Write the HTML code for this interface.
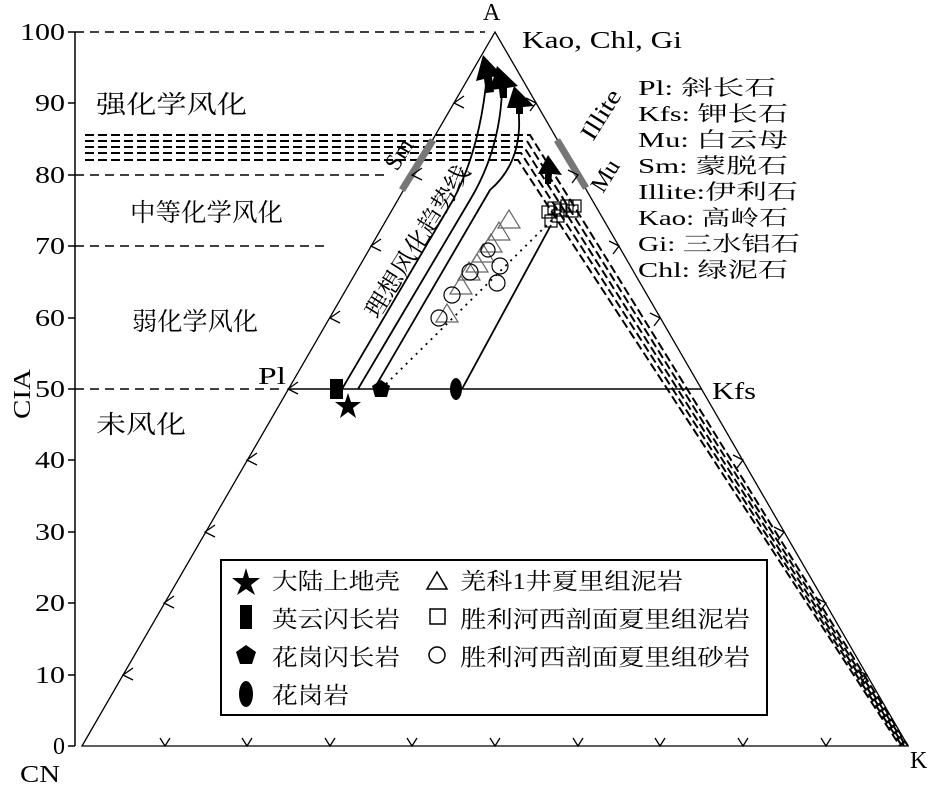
<!DOCTYPE html>
<html><head><meta charset="utf-8"><style>
body{margin:0;background:#fff}
text{font-family:"Liberation Serif","Noto Serif CJK SC","Noto Sans CJK SC",serif;fill:#000}
</style></head><body>
<svg width="938" height="788" viewBox="0 0 938 788" xmlns="http://www.w3.org/2000/svg">
<g stroke="#000" fill="none">
<line x1="75" y1="32" x2="75" y2="746" stroke-width="1.5"/>
<g stroke-width="1.5">
<line x1="68" y1="32" x2="75" y2="32"/><line x1="68" y1="103" x2="75" y2="103"/><line x1="68" y1="175" x2="75" y2="175"/><line x1="68" y1="246" x2="75" y2="246"/><line x1="68" y1="318" x2="75" y2="318"/><line x1="68" y1="389" x2="75" y2="389"/><line x1="68" y1="460" x2="75" y2="460"/><line x1="68" y1="532" x2="75" y2="532"/><line x1="68" y1="603" x2="75" y2="603"/><line x1="68" y1="675" x2="75" y2="675"/><line x1="68" y1="746" x2="75" y2="746"/>
</g>
<polygon points="82,746 908,746 495,32" stroke-width="1.3"/>
<g stroke-dasharray="9,6" stroke-width="1.5">
<line x1="75" y1="32" x2="485" y2="32"/>
<line x1="75" y1="175" x2="390" y2="175"/>
<line x1="75" y1="246" x2="330" y2="246"/>
<line x1="75" y1="389" x2="285" y2="389"/>
</g>
<line x1="288" y1="389" x2="702" y2="389" stroke-width="1.5"/>
<g stroke-dasharray="9,4" stroke-width="2">
<polyline points="85,135 530,135 908,746"/>
<polyline points="85,141 527,141 906,746"/>
<polyline points="85,147 524,147 904,746"/>
<polyline points="85,153 521,153 902,746"/>
<polyline points="85,160 518,160 900,746"/>
</g>
<line x1="402" y1="190" x2="433" y2="140" stroke="#777" stroke-width="7"/>
<line x1="557" y1="140" x2="586" y2="188" stroke="#777" stroke-width="7"/>
<g stroke-width="1.8">
<path d="M342,389 L453,200 Q480,150 487,75"/>
<path d="M358,389 L470,200 Q500,150 502,90"/>
<path d="M374,389 L490,190 Q525,160 518,105"/>
<line x1="462" y1="389" x2="551" y2="225"/>
</g>
<line x1="381" y1="389" x2="560" y2="212" stroke-dasharray="2,5" stroke-width="1.8"/>
<g stroke-width="1.3">
<path d="M160,738 l5,8 l5,-8 M242,738 l5,8 l5,-8 M325,738 l5,8 l5,-8 M407,738 l5,8 l5,-8 M490,738 l5,8 l5,-8 M573,738 l5,8 l5,-8 M655,738 l5,8 l5,-8 M738,738 l5,8 l5,-8 M821,738 l5,8 l5,-8"/>
<path d="M133,668 l-10,7 l10,5 M174,596 l-10,7 l10,5 M215,525 l-10,7 l10,5 M257,453 l-10,7 l10,5 M298,382 l-10,7 l10,5 M340,311 l-10,7 l10,5 M381,239 l-10,7 l10,5 M422,168 l-10,7 l10,5 M464,96 l-10,7 l10,5"/>
<path d="M857,670 l10,5 l-6,8 M816,598 l10,5 l-6,8 M774,527 l10,5 l-6,8 M733,455 l10,5 l-6,8 M650,313 l10,5 l-6,8 M609,241 l10,5 l-6,8 M568,170 l10,5 l-6,8 M526,98 l10,5 l-6,8"/>
</g>
<g stroke="#666" stroke-width="1.2">
<path d="M498,228 l11,-18 l11,18z M488,240 l11,-18 l11,18z M480,252 l11,-18 l11,18z M472,262 l11,-18 l11,18z M466,272 l11,-18 l11,18z M458,280 l11,-18 l11,18z M450,294 l11,-18 l11,18z M436,322 l11,-18 l11,18z"/>
</g>
<g stroke-width="1.2">
<circle cx="439" cy="318" r="8"/><circle cx="452" cy="295" r="8"/><circle cx="470" cy="272" r="8"/><circle cx="497" cy="283" r="8"/><circle cx="500" cy="266" r="8"/><circle cx="488" cy="250" r="7"/>
<rect x="542" y="206" width="12" height="12"/><rect x="548" y="202" width="12" height="12"/><rect x="555" y="204" width="12" height="12"/><rect x="561" y="200" width="12" height="12"/><rect x="566" y="205" width="12" height="12"/><rect x="545" y="215" width="12" height="12"/><rect x="552" y="210" width="12" height="12"/><rect x="569" y="200" width="12" height="12"/>
</g>
<rect x="221" y="560" width="546" height="155" stroke-width="2"/>
</g>
<g fill="#000">
<polygon points="483,55 502,75 492,77 494,92 486,93 484,79 476,81"/>
<polygon points="497,66 518,86 507,88 507,98 500,98 499,89 490,90"/>
<polygon points="514,86 534,106 523,107 523,114 516,114 516,108 507,108"/>
<polygon points="548,155 562,175 552,174 551,184 545,184 545,174 538,174"/>
<rect x="330" y="379" width="13" height="20"/>
<polygon points="381,380 390,386 387,397 375,397 372,386"/>
<ellipse cx="456" cy="389" rx="6" ry="11"/>
<polygon points="348,393 351,402 361,402 353,408 356,418 348,412 340,418 343,408 335,402 345,402"/>
<polygon points="246,568 249,578 260,578 251,585 255,595 246,589 237,595 241,585 232,578 243,578"/>
<rect x="240" y="605" width="12" height="24"/>
<polygon points="246,645 256,652 252,664 240,664 236,652"/>
<ellipse cx="246" cy="694" rx="7" ry="13"/>
</g>
<g fill="none" stroke="#000" stroke-width="1.5">
<path d="M427,589 l10,-17 l10,17z"/>
<rect x="430" y="609" width="15" height="15"/>
<circle cx="437" cy="655" r="8"/>
</g>
<g font-size="24">
<text x="65" y="40" text-anchor="end" textLength="45" lengthAdjust="spacingAndGlyphs">100</text>
<text x="65" y="111" text-anchor="end" textLength="30" lengthAdjust="spacingAndGlyphs">90</text>
<text x="65" y="183" text-anchor="end" textLength="30" lengthAdjust="spacingAndGlyphs">80</text>
<text x="65" y="254" text-anchor="end" textLength="30" lengthAdjust="spacingAndGlyphs">70</text>
<text x="65" y="326" text-anchor="end" textLength="30" lengthAdjust="spacingAndGlyphs">60</text>
<text x="65" y="397" text-anchor="end" textLength="30" lengthAdjust="spacingAndGlyphs">50</text>
<text x="65" y="468" text-anchor="end" textLength="30" lengthAdjust="spacingAndGlyphs">40</text>
<text x="65" y="540" text-anchor="end" textLength="30" lengthAdjust="spacingAndGlyphs">30</text>
<text x="65" y="611" text-anchor="end" textLength="30" lengthAdjust="spacingAndGlyphs">20</text>
<text x="65" y="683" text-anchor="end" textLength="30" lengthAdjust="spacingAndGlyphs">10</text>
<text x="65" y="754" text-anchor="end">0</text>
<text x="36" y="400" text-anchor="middle" transform="rotate(-90 30 400)" textLength="50" lengthAdjust="spacingAndGlyphs">CIA</text>
<text x="20" y="782" textLength="40" lengthAdjust="spacingAndGlyphs">CN</text>
<text x="910" y="768">K</text>
<text x="483" y="20">A</text>
<text x="522" y="48" textLength="160" lengthAdjust="spacingAndGlyphs">Kao, Chl, Gi</text>
<text x="258" y="384" textLength="28" lengthAdjust="spacingAndGlyphs">Pl</text>
<text x="712" y="399" textLength="44" lengthAdjust="spacingAndGlyphs">Kfs</text>
<text x="593" y="142" transform="rotate(-58 593 142)" textLength="55" lengthAdjust="spacingAndGlyphs">Illite</text>
<text x="603" y="194" transform="rotate(-58 603 194)">Mu</text>
<text x="397" y="172" transform="rotate(-58 397 172)">Sm</text>
<text x="378" y="320" transform="rotate(-58 378 320)" textLength="175" lengthAdjust="spacingAndGlyphs">理想风化趋势线</text>
</g>
<g font-size="25">
<text x="96" y="113" textLength="151" lengthAdjust="spacingAndGlyphs">强化学风化</text>
<text x="130" y="221" textLength="153" lengthAdjust="spacingAndGlyphs">中等化学风化</text>
<text x="132" y="330" textLength="126" lengthAdjust="spacingAndGlyphs">弱化学风化</text>
<text x="96" y="433" textLength="90" lengthAdjust="spacingAndGlyphs">未风化</text>
</g>
<g font-size="23">
<text x="272" y="589" textLength="128" lengthAdjust="spacingAndGlyphs">大陆上地壳</text>
<text x="272" y="627" textLength="128" lengthAdjust="spacingAndGlyphs">英云闪长岩</text>
<text x="272" y="665" textLength="128" lengthAdjust="spacingAndGlyphs">花岗闪长岩</text>
<text x="272" y="703" textLength="77" lengthAdjust="spacingAndGlyphs">花岗岩</text>
<text x="460" y="589" textLength="223" lengthAdjust="spacingAndGlyphs">羌科1井夏里组泥岩</text>
<text x="460" y="627" textLength="290" lengthAdjust="spacingAndGlyphs">胜利河西剖面夏里组泥岩</text>
<text x="460" y="665" textLength="290" lengthAdjust="spacingAndGlyphs">胜利河西剖面夏里组砂岩</text>
</g>
<g font-size="21">
<text x="638" y="95" textLength="138" lengthAdjust="spacingAndGlyphs">Pl: 斜长石</text>
<text x="638" y="121" textLength="150" lengthAdjust="spacingAndGlyphs">Kfs: 钾长石</text>
<text x="638" y="147" textLength="150" lengthAdjust="spacingAndGlyphs">Mu: 白云母</text>
<text x="638" y="173" textLength="150" lengthAdjust="spacingAndGlyphs">Sm: 蒙脱石</text>
<text x="638" y="199" textLength="160" lengthAdjust="spacingAndGlyphs">Illite:伊利石</text>
<text x="638" y="225" textLength="150" lengthAdjust="spacingAndGlyphs">Kao: 高岭石</text>
<text x="638" y="251" textLength="162" lengthAdjust="spacingAndGlyphs">Gi: 三水铝石</text>
<text x="638" y="277" textLength="150" lengthAdjust="spacingAndGlyphs">Chl: 绿泥石</text>
</g>
</svg>
</body></html>
